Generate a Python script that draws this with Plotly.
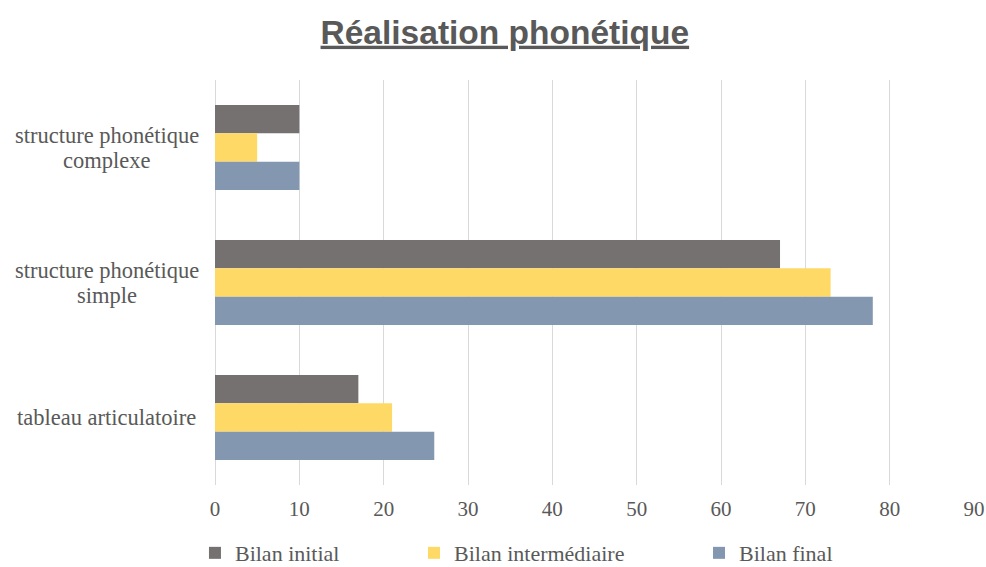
import plotly.graph_objects as go

categories = ["structure phonétique complexe", "structure phonétique simple", "tableau articulatoire"]
category_labels = ["structure phonétique<br>complexe", "structure phonétique<br>simple", "tableau articulatoire"]
series_names = ["Bilan initial", "Bilan intermédiaire", "Bilan final"]
bilan_initial = [10, 67, 17]
bilan_intermediaire = [5, 73, 21]
bilan_final = [10, 78, 26]
x_ticks = [0, 10, 20, 30, 40, 50, 60, 70, 80, 90]

colors = ["#767171", "#FFD966", "#8497B0"]
values = [bilan_initial, bilan_intermediaire, bilan_final]
legend_ids = ["legend", "legend2", "legend3"]
legend_x = [-0.0264, 0.2622, 0.6377]

serif = "Liberation Serif"
grey = "#595959"

fig = go.Figure()
for name, vals, col, lid in zip(series_names, values, colors, legend_ids):
    fig.add_trace(go.Bar(
        y=categories, x=vals, name=name, orientation="h",
        marker=dict(color=col, line=dict(width=0)),
        legend=lid, hoverinfo="x+name",
    ))

legend_common = dict(orientation="h", yanchor="middle", y=-0.168,
                     font=dict(family=serif, size=22, color=grey),
                     bgcolor="rgba(0,0,0,0)", itemwidth=30)
layout_legends = {}
for lid, lx in zip(legend_ids, legend_x):
    layout_legends[lid] = dict(legend_common, x=lx, xanchor="left")

annotations = []
line_gap = 25
for cat, lab in zip(categories, category_labels):
    lines = lab.split("<br>")
    n = len(lines)
    for i, line in enumerate(lines):
        annotations.append(dict(
            x=-0.1423, xref="paper", y=cat, yref="y", text=line, showarrow=False,
            xanchor="center", yanchor="middle", align="center",
            yshift=((n - 1) / 2 - i) * line_gap,
            font=dict(family=serif, size=22.5, color=grey),
        ))

fig.update_layout(
    width=986, height=567,
    margin=dict(l=215, r=12, t=80, b=82, autoexpand=False),
    paper_bgcolor="white", plot_bgcolor="white",
    title=dict(text="<u><b>Réalisation phonétique</b></u>", x=0.512, xanchor="center",
               y=1 - 32 / 567, yanchor="middle",
               font=dict(family="Liberation Sans", size=33.5, color=grey)),
    barmode="group", bargap=0.37, bargroupgap=0,
    showlegend=True,
    annotations=annotations,
    **layout_legends,
)
fig.update_xaxes(range=[0, 90], tickvals=x_ticks, showgrid=True, gridcolor="#d9d9d9",
                 gridwidth=1, zeroline=True, zerolinecolor="#d9d9d9", zerolinewidth=1,
                 showline=False, ticks="", ticklabelstandoff=9,
                 tickfont=dict(family=serif, size=21, color=grey))
fig.update_yaxes(autorange="reversed", categoryorder="array", categoryarray=categories,
                 showticklabels=False, showgrid=False, zeroline=False, showline=False)

fig.write_html("out.html",
               config={"displayModeBar": False},
               post_script="document.body.style.margin='0';document.body.style.overflow='hidden';")
